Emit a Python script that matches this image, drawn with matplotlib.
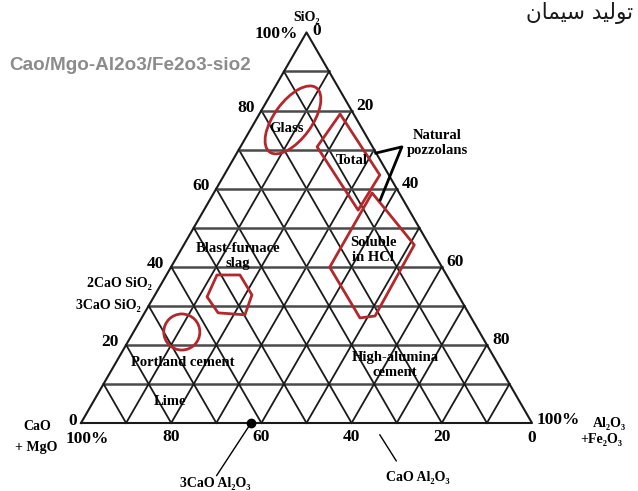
import numpy as np
import matplotlib
matplotlib.use("Agg")
import matplotlib.pyplot as plt
from matplotlib.patches import Polygon, Ellipse, Circle

H = np.sqrt(3) / 2

# grid lines every 10 %, labels every 20 %
grid_steps = np.arange(10, 100, 10)
tick_values = [20, 40, 60, 80]

# regions as SiO2 % / Al2O3+Fe2O3 %, CaO+MgO is the rest
glass_center = (77.6, 8.2)
portland_center = (23.3, 10.7)
slag_si = [32.3, 37.9, 37.9, 32.8, 27.7, 28.2]
slag_al = [11.8, 11.2, 16.3, 21.5, 22.5, 16.3]
total_si = [79.1, 63.5, 54.5, 70.7]
total_al = [17.9, 34.5, 34.2, 17.0]
soluble_si = [58.9, 45.6, 27.4, 26.9, 39.9]
soluble_al = [35.1, 51.1, 51.5, 48.4, 35.2]
pozz_si = [69.1, 70.7, 57.1]
pozz_al = [30.8, 35.8, 37.8]
c3a_al = 37.7   # 3CaO.Al2O3
ca_al = 64.6    # CaO.Al2O3

# region names and where they sit (SiO2 %, Al2O3 %)
region_labels = [
    ("Glass", 75.5, 7.9),
    ("Total", 67.1, 26.5),
    ("Soluble\nin HCl", 44.3, 42.6),
    ("Blast-furnace\nslag", 42.8, 13.4),
    ("Portland cement", 15.4, 14.9),
    ("Lime", 5.4, 17.0),
    ("High-alumina\ncement", 14.9, 62.2),
    ("Natural\npozzolans", 71.7, 43.1),
]

SERIF = ["Liberation Serif", "DejaVu Serif"]
RED = "#b3282d"


def tern(si, al):
    si = np.asarray(si, dtype=float) / 100
    al = np.asarray(al, dtype=float) / 100
    return al + si / 2, si * H


def px(x, y):
    return x / 638, 1 - y / 491


fig = plt.figure(figsize=(6.38, 4.91), dpi=100)
ax = fig.add_axes([0, 0, 1, 1])
ax.set_xlim(-81 / 451, 557 / 451)
ax.set_ylim(-68 / 451, 423 / 451)
ax.set_aspect("equal")
ax.axis("off")

# grid
for v in grid_steps:
    x, y = tern([v, v], [0, 100 - v])
    ax.plot(x, y, color="#4a4a4a", lw=1.8, zorder=1)
    x, y = tern([0, 100 - v], [v, v])
    ax.plot(x, y, color="#1a1a1a", lw=1.3, zorder=1)
    x, y = tern([0, 100 - v], [100 - v, 0])
    ax.plot(x, y, color="#1a1a1a", lw=1.3, zorder=1)

x, y = tern([0, 100, 0, 0], [0, 0, 100, 0])
ax.plot(x, y, color="#1a1a1a", lw=1.5, zorder=2)

# regions
gx, gy = tern(*glass_center)
ax.add_patch(Ellipse((gx, gy), 0.176, 0.084, angle=54, fill=False,
                     ec=RED, lw=2, zorder=3))
cx, cy = tern(*portland_center)
ax.add_patch(Circle((cx, cy), 0.040, fill=False, ec=RED, lw=2, zorder=3))
for si, al in [(slag_si, slag_al), (total_si, total_al),
               (soluble_si, soluble_al)]:
    x, y = tern(si, al)
    ax.add_patch(Polygon(np.column_stack([x, y]), closed=True, fill=False,
                         ec=RED, lw=2, joinstyle="round", zorder=3))

x, y = tern(pozz_si, pozz_al)
ax.plot(x, y, color="black", lw=2, zorder=3)

# compounds on the base
x, y = tern(0, c3a_al)
ax.plot(x, y, "o", color="black", ms=6, zorder=4)
ax.annotate("", xy=(x, y), xytext=(-36, -55), textcoords="offset pixels",
            arrowprops=dict(arrowstyle="-", color="black", lw=1))
x, y = tern(0, ca_al)
ax.annotate("", xy=(x, y), xytext=(24, -38), textcoords="offset pixels",
            arrowprops=dict(arrowstyle="-", color="black", lw=1,
                            shrinkA=0, shrinkB=10))

for name, si, al in region_labels:
    x, y = tern(si, al)
    ax.text(x, y, name, ha="center", va="center", fontsize=10.5,
            fontweight="bold", family=SERIF, linespacing=1.15, zorder=5)

# tick labels
num = dict(fontsize=12.5, fontweight="bold", family=SERIF, va="center",
           textcoords="offset pixels")
for v in tick_values:
    ax.annotate(str(v), tern(v, 0), xytext=(-7, 3), ha="right", **num)
    ax.annotate(str(v), tern(100 - v, v), xytext=(5, 5), ha="left", **num)
    ax.annotate(str(100 - v), tern(0, v), xytext=(0, -14), ha="center", **num)
ax.annotate("0", tern(0, 0), xytext=(-4, 2), ha="right", **num)
ax.annotate("100%", tern(0, 0), xytext=(6, -16), ha="center", **num)
ax.annotate("100%", tern(100, 0), xytext=(-9, -2), ha="right", **num)
ax.annotate("0", tern(100, 0), xytext=(6, 1), ha="left", **num)
ax.annotate("100%", tern(0, 100), xytext=(5, 3), ha="left", **num)
ax.annotate("0", tern(0, 100), xytext=(0, -15), ha="center", **num)

# axis and compound names
lab = dict(fontsize=10, fontweight="bold", family=SERIF, va="center")
fig.text(*px(307, 17), "SiO₂", ha="center", **lab)
fig.text(*px(37, 427), "CaO", ha="center", **lab)
fig.text(*px(36, 448), "+ MgO", ha="center", **lab)
fig.text(*px(593, 424), "Al₂O₃", ha="left", **lab)
fig.text(*px(580, 440), "+Fe₂O₃", ha="left", **lab)
fig.text(*px(152, 284), "2CaO SiO₂", ha="right", **lab)
fig.text(*px(141, 306), "3CaO SiO₂", ha="right", **lab)
fig.text(*px(215, 484), "3CaO Al₂O₃", ha="center", **lab)
fig.text(*px(418, 478), "CaO Al₂O₃", ha="center", **lab)

# titles
fig.text(*px(9, 66), "Cao/Mgo-Al2o3/Fe2o3-sio2", ha="left", va="center",
         fontsize=13.6, fontweight="bold", family="Liberation Sans",
         color="#8c8c8c")
fig.text(*px(633, 13), "ﻥﺎﻤﻴﺳ ﺪﻴﻟﻮﺗ", ha="right", va="center",
         fontsize=15.5, family=["DejaVu Sans"], color="#1a1a1a")

fig.savefig("out.png", dpi=100)
